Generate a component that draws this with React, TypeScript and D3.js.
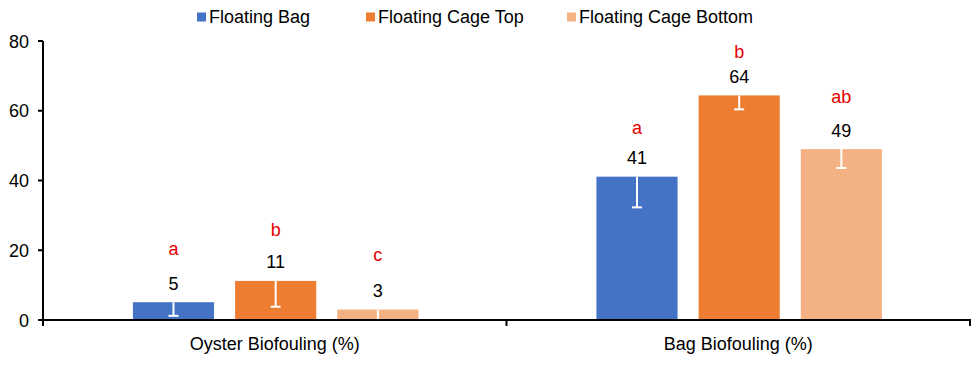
import React from "react";
import * as d3 from "d3";

const categories = ["Oyster Biofouling (%)", "Bag Biofouling (%)"];
const seriesNames = ["Floating Bag", "Floating Cage Top", "Floating Cage Bottom"];
const seriesColors = ["#4472C4", "#ED7D31", "#F4B183"];
// values[series][category]
const values = [
  [5.1, 41.1],
  [11.2, 64.4],
  [3.0, 49.0],
];
const labels = [
  ["5", "41"],
  ["11", "64"],
  ["3", "49"],
];
const minusErrors = [
  [3.9, 8.8],
  [7.4, 4.0],
  [3.2, 5.4],
];
const letters = [
  ["a", "a"],
  ["b", "b"],
  ["c", "ab"],
];
const letterAt = [
  [20.3, 55.0],
  [25.8, 76.8],
  [18.6, 63.9],
];
const yTicks = [0, 20, 40, 60, 80];

const W = 975;
const H = 375;
const left = 43;
const right = 970;
const top = 41;
const bottom = 320;
const FONT = "'Liberation Sans', Arial, sans-serif";
const FS = 18;

export default function App() {
  const y = d3.scaleLinear().domain([0, 80]).range([bottom, top]);
  const x0 = d3.scaleBand<string>().domain(categories).range([left, right]).padding(0);
  const bw0 = x0.bandwidth();
  const x1 = d3
    .scaleBand<string>()
    .domain(seriesNames)
    .range([bw0 * 0.194, bw0 * 0.81])
    .paddingInner(0.206)
    .paddingOuter(0);
  const bw = x1.bandwidth();

  const legendX = [197, 366, 567];

  return (
    <svg
      width={W}
      height={H}
      style={{ position: "absolute", left: 0, top: 0, background: "#fff" }}
      fontFamily={FONT}
    >
      <rect x={0} y={0} width={W} height={H} fill="#fff" />
      {/* legend */}
      {seriesNames.map((s, i) => (
        <g key={s}>
          <rect x={legendX[i]} y={12.5} width={9} height={9} fill={seriesColors[i]} />
          <text x={legendX[i] + 12} y={23} fontSize={FS} fill="#000">
            {s}
          </text>
        </g>
      ))}
      {/* bars */}
      {seriesNames.map((s, si) =>
        categories.map((c, ci) => {
          const bx = (x0(c) as number) + (x1(s) as number);
          const v = values[si][ci];
          const yt = y(v);
          const cx = bx + bw / 2;
          const ylow = y(v - minusErrors[si][ci]);
          return (
            <g key={s + c}>
              <rect x={bx} y={yt} width={bw} height={bottom - yt} fill={seriesColors[si]} />
              <line x1={cx} x2={cx} y1={yt} y2={ylow} stroke="#fff" strokeWidth={2} />
              <line x1={cx - 5} x2={cx + 5} y1={ylow} y2={ylow} stroke="#fff" strokeWidth={2} />
              <text x={cx} y={yt - 12.5} textAnchor="middle" fontSize={FS} fill="#000">
                {labels[si][ci]}
              </text>
              <text
                x={cx}
                y={y(letterAt[si][ci]) + 6}
                textAnchor="middle"
                fontSize={FS}
                fill="#E60000"
              >
                {letters[si][ci]}
              </text>
            </g>
          );
        })
      )}
      {/* y axis */}
      <line x1={left} x2={left} y1={top} y2={bottom} stroke="#000" strokeWidth={2} />
      {yTicks.map((t) => (
        <g key={t}>
          <line x1={left - 5} x2={left} y1={y(t)} y2={y(t)} stroke="#000" strokeWidth={2} />
          <text x={29} y={y(t) + 6.5} textAnchor="end" fontSize={FS} fill="#000">
            {t}
          </text>
        </g>
      ))}
      {/* x axis */}
      <line x1={left - 1} x2={right + 1} y1={bottom} y2={bottom} stroke="#000" strokeWidth={2} />
      {[...categories.map((c) => x0(c) as number), right].map((tx, i) => (
        <line key={i} x1={tx} x2={tx} y1={bottom} y2={bottom + 6} stroke="#000" strokeWidth={2} />
      ))}
      {categories.map((c) => (
        <text
          key={c}
          x={(x0(c) as number) + bw0 / 2}
          y={350}
          textAnchor="middle"
          fontSize={FS}
          fill="#000"
        >
          {c}
        </text>
      ))}
    </svg>
  );
}
